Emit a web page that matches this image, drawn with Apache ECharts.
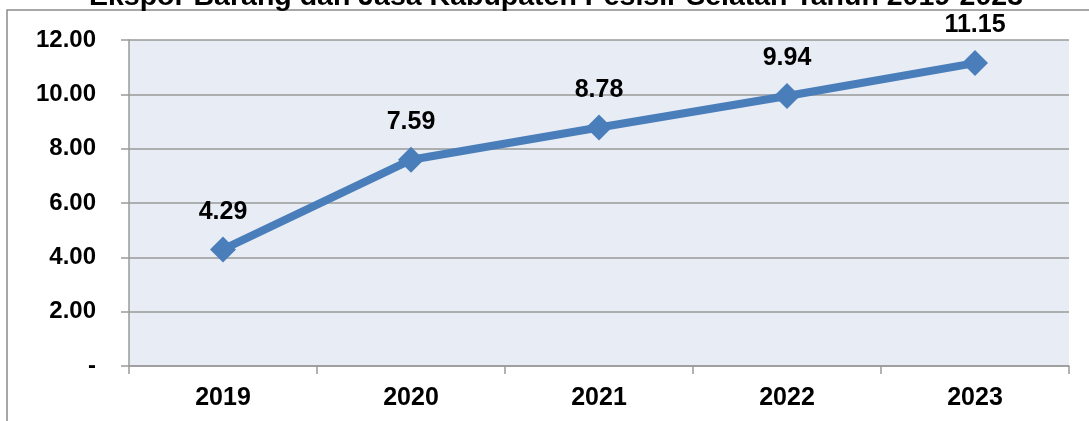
<!DOCTYPE html>
<html>
<head>
<meta charset="utf-8">
<script src="https://cdn.jsdelivr.net/npm/echarts@6/dist/echarts.min.js"></script>
<style>
html,body{margin:0;padding:0;background:#fff;}
#chart{width:1089px;height:421px;}
</style>
</head>
<body>
<div id="chart"></div>
<script>
var titleText = 'Ekspor Barang dan Jasa Kabupaten Pesisir Selatan Tahun 2019-2023';
var categories = ['2019', '2020', '2021', '2022', '2023'];
var values = [4.29, 7.59, 8.78, 9.94, 11.15];
var yMin = 0, yMax = 12, yInterval = 2;

var chart = echarts.init(document.getElementById('chart'));
var FONT = 'Liberation Sans, Arial, sans-serif';
chart.setOption({
  animation: false,
  backgroundColor: '#ffffff',
  graphic: [
    {
      type: 'rect', z: 0,
      shape: { x: 7, y: 10, width: 1300, height: 600 },
      style: { fill: 'none', stroke: '#8c8c8c', lineWidth: 1.5 }
    },
    {
      type: 'text', z: 10,
      x: 556, y: -3,
      style: {
        text: titleText,
        font: 'bold 28.5px ' + FONT,
        fill: '#000',
        align: 'center',
        verticalAlign: 'middle'
      }
    }
  ],
  grid: { left: 129, right: 20, top: 40, bottom: 55, show: true, backgroundColor: '#e8ecf4', borderWidth: 0 },
  xAxis: {
    type: 'category',
    data: categories,
    boundaryGap: true,
    axisLine: { show: true, lineStyle: { color: '#9a9a9a', width: 1.5 } },
    axisTick: { show: true, length: 8, alignWithLabel: false, lineStyle: { color: '#9a9a9a', width: 1.5 } },
    axisLabel: { color: '#000', fontWeight: 'bold', fontSize: 25, fontFamily: FONT, margin: 20 },
    splitLine: { show: false }
  },
  yAxis: {
    type: 'value',
    min: yMin, max: yMax, interval: yInterval,
    axisLine: { show: true, lineStyle: { color: '#9a9a9a', width: 1.5 } },
    axisTick: { show: true, length: 8, lineStyle: { color: '#9a9a9a', width: 1.5 } },
    axisLabel: {
      color: '#000', fontWeight: 'bold', fontSize: 24, fontFamily: FONT, margin: 33,
      formatter: function (v) { return v === 0 ? '-' : v.toFixed(2); }
    },
    splitLine: { show: true, lineStyle: { color: '#9a9a9a', width: 1.5 } }
  },
  series: [{
    type: 'line',
    data: values,
    lineStyle: { color: '#4a7ebb', width: 8 },
    itemStyle: { color: '#4a7ebb' },
    symbol: 'diamond',
    symbolSize: 26,
    label: {
      show: true, position: 'top', distance: 12,
      color: '#000', fontWeight: 'bold', fontSize: 25, fontFamily: FONT,
      formatter: function (p) { return p.value.toFixed(2); }
    }
  }]
});
</script>
</body>
</html>
